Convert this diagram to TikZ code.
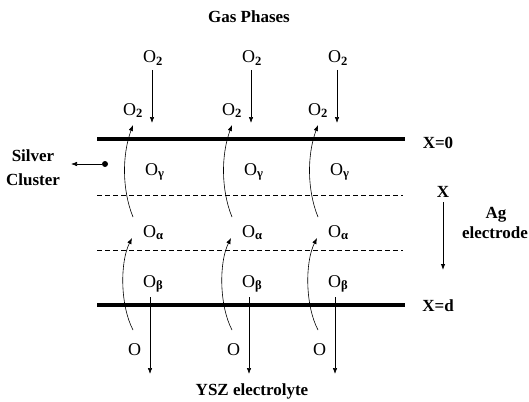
\documentclass[tikz,border=0pt]{standalone}
\usepackage{fontspec}
\setmainfont{Liberation Serif}
\usetikzlibrary{arrows.meta,positioning}

\begin{document}
\begin{tikzpicture}[x=1pt,y=-1pt,
    species/.style={font=\fontsize{18}{21}\selectfont, inner sep=0pt, anchor=base west},
    caption/.style={font=\fontsize{17}{22}\selectfont\bfseries, inner sep=0pt, anchor=base, align=center},
    flow/.style={-{Latex[length=6pt,width=4.5pt]}, line width=0.6pt},
    boundary/.style={line width=3.5pt},
    sublayer/.style={dash pattern=on 5pt off 3pt, line width=0.7pt}]
    \useasboundingbox (0,0) rectangle (529,401);

    % Titles
    \node[caption] (gas) at (249,23) {Gas Phases};
    \node[caption] (ysz) at (252,395) {YSZ electrolyte};

    % Electrode boundaries and sublayers
    \draw[boundary] (97,139) -- (405,139);
    \draw[boundary] (97,305) -- (405,305);
    \draw[sublayer] (97,195) -- (403,195);
    \draw[sublayer] (97,250) -- (403,250);
    \node[caption] (xzero) at (438,148) {X=0};
    \node[caption] (xd) at (438,311) {X=d};

    % Depth axis
    \node[caption] (xaxis) at (443,197) {X};
    \coordinate (xend) at (443,270);
    \draw[flow, line width=0.9pt] ([yshift=-5pt]xaxis.south) -- (xend);
    \node[caption] (ag) at (496,218) {Ag};
    \node[caption] (electrode) at (495,238) {electrode};

    % Silver cluster
    \node[caption] (silver) at (33,161) {Silver};
    \node[caption] (cluster) at (33,185) {Cluster};
    \node[circle, fill, inner sep=0pt, minimum size=6pt] (agdot) at (105,164) {};
    \coordinate (silverend) at (71,164);
    \draw[flow] (agdot) -- (silverend);

    % Reaction paths, one column each
    \foreach \i/\dx in {1/0, 2/99, 3/185} {
        \node[species] (gtop\i) at (143+\dx,63) {O\textsubscript{\textbf{2}}};
        \node[species] (gads\i) at (123+\dx,115) {O\textsubscript{\textbf{2}}};
        \node[species] (ogam\i) at (145+\dx,175) {O\textsubscript{\textbf{γ}}};
        \node[species] (oalp\i) at (143+\dx,237) {O\textsubscript{\textbf{α}}};
        \node[species] (obet\i) at (143+\dx,287) {O\textsubscript{\textbf{β}}};
        \node[species] (oion\i) at (128+\dx,355) {O};

        \coordinate (in\i) at (152+\dx,123);
        \draw[flow] (152+\dx,70) -- (in\i);

        \coordinate (up\i) at (133+\dx,125);
        \coordinate (mid\i) at (133+\dx,217);
        \draw[flow] (mid\i) .. controls (122+\dx,190) and (122+\dx,155) .. (up\i);

        \coordinate (low\i) at (133+\dx,330);
        \coordinate (alp\i) at (132+\dx,238);
        \draw[flow] (low\i) .. controls (120+\dx,305) and (120+\dx,262) .. (alp\i);

        \coordinate (out\i) at (150+\dx,374);
        \draw[flow] (150+\dx,297) -- (out\i);
    }
\end{tikzpicture}
\end{document}
